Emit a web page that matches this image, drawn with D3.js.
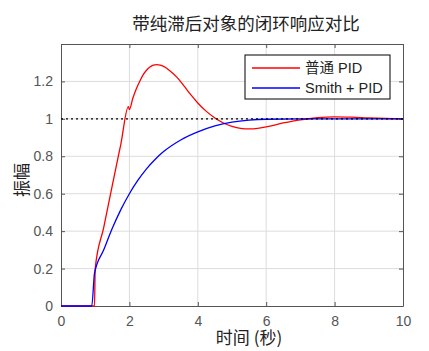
<!DOCTYPE html>
<html>
<head>
<meta charset="utf-8">
<script src="https://cdn.jsdelivr.net/npm/d3@7"></script>
<style>
  body { margin: 0; background: #fff; }
  .axis text { font-family: "Liberation Sans", Arial, sans-serif; font-size: 14px; fill: #555; }
  .axis path, .axis line { stroke: #555; }
  .cjk { font-family: "Noto Sans CJK SC", sans-serif; }
</style>
</head>
<body>
<script>
//==============================================================================
// DATA
//==============================================================================

const title = '带纯滞后对象的闭环响应对比';
const xLabel = '时间 (秒)';
const yLabel = '振幅';
const seriesNames = ['普通 PID', 'Smith + PID'];
const seriesColors = ['#ff0000', '#0000ff'];

const xTicks = [0, 2, 4, 6, 8, 10];
const yTicks = [0, 0.2, 0.4, 0.6, 0.8, 1, 1.2];
const setpoint = 1;

// 普通 PID
const pidT = [0, 0.98, 1.0, 1.25, 1.5, 1.75, 1.97, 2.0, 2.1, 2.2, 2.3, 2.4, 2.5, 2.6, 2.7, 2.8, 2.9, 3.0, 3.2, 3.4, 3.6, 3.8, 4.0, 4.25, 4.5, 4.75, 5.0, 5.25, 5.5, 5.75, 6.0, 6.5, 7.0, 7.5, 8.0, 8.5, 9.0, 9.5, 10];
const pidY = [0, 0, 0.2, 0.42, 0.645, 0.865, 1.065, 1.05, 1.11, 1.16, 1.2, 1.235, 1.26, 1.277, 1.287, 1.29, 1.287, 1.28, 1.255, 1.22, 1.175, 1.128, 1.085, 1.04, 1.005, 0.978, 0.96, 0.949, 0.946, 0.949, 0.957, 0.978, 0.995, 1.006, 1.011, 1.009, 1.005, 1.002, 1.0];

// Smith + PID
const smithT = [0, 0.9, 0.98, 1.25, 1.5, 1.75, 2.0, 2.25, 2.5, 2.75, 3.0, 3.5, 4.0, 4.5, 5.0, 5.5, 6.0, 7.0, 8.0, 10];
const smithY = [0, 0, 0.175, 0.30, 0.415, 0.515, 0.60, 0.672, 0.733, 0.783, 0.825, 0.887, 0.93, 0.962, 0.982, 0.993, 0.998, 1.0, 1.0, 1.0];

//==============================================================================
// PARAMETERS
//==============================================================================

const margin = { top: 44, right: 26, bottom: 45, left: 61 };
const width = 403 - 61;
const height = 306 - 44;

const svg = d3.select('body').append('svg')
  .attr('width', 429)
  .attr('height', 351);

const g = svg.append('g')
  .attr('transform', `translate(${margin.left},${margin.top})`);

const x = d3.scaleLinear().domain([0, 10]).range([0, width]);
const y = d3.scaleLinear().domain([0, 1.4]).range([height, 0]);

const line = d3.line()
  .x(d => x(d[0]))
  .y(d => y(d[1]))
  .curve(d3.curveMonotoneX);

//==============================================================================
// DRAW
//==============================================================================

// grid
g.append('g').selectAll('line')
  .data(xTicks.slice(1, -1))
  .enter().append('line')
  .attr('x1', d => x(d)).attr('x2', d => x(d))
  .attr('y1', 0).attr('y2', height)
  .attr('stroke', '#dcdcdc');

g.append('g').selectAll('line')
  .data(yTicks.slice(1))
  .enter().append('line')
  .attr('x1', 0).attr('x2', width)
  .attr('y1', d => y(d)).attr('y2', d => y(d))
  .attr('stroke', '#dcdcdc');

// axes (ticks inside)
g.append('g')
  .attr('class', 'axis')
  .attr('transform', `translate(0,${height})`)
  .call(d3.axisBottom(x).tickValues(xTicks).tickSizeInner(-4).tickSizeOuter(0).tickPadding(10).tickFormat(d3.format('d')));

g.append('g')
  .attr('class', 'axis')
  .call(d3.axisLeft(y).tickValues(yTicks).tickSizeInner(-4).tickSizeOuter(0).tickPadding(8).tickFormat(d => d3.format('~g')(d)));

g.append('g')
  .attr('class', 'axis')
  .call(d3.axisTop(x).tickValues(xTicks).tickSizeInner(-4).tickSizeOuter(0).tickFormat(''));

g.append('g')
  .attr('class', 'axis')
  .attr('transform', `translate(${width},0)`)
  .call(d3.axisRight(y).tickValues(yTicks).tickSizeInner(-4).tickSizeOuter(0).tickFormat(''));

g.selectAll('.axis .domain').attr('stroke', '#555');

// series
const series = [
  pidT.map((t, i) => [t, pidY[i]]),
  smithT.map((t, i) => [t, smithY[i]])
];

series.forEach((s, i) => {
  g.append('path')
    .datum(s)
    .attr('fill', 'none')
    .attr('stroke', seriesColors[i])
    .attr('stroke-width', 1.3)
    .attr('d', line);
});

// setpoint
g.append('line')
  .attr('x1', x(0)).attr('x2', x(10))
  .attr('y1', y(setpoint)).attr('y2', y(setpoint))
  .attr('stroke', '#000')
  .attr('stroke-width', 1.3)
  .attr('stroke-dasharray', '2,3');

// title & labels
svg.append('text')
  .attr('class', 'cjk')
  .attr('x', 246).attr('y', 30)
  .attr('text-anchor', 'middle')
  .style('font-size', '17.5px')
  .attr('fill', '#222')
  .text(title);

svg.append('text')
  .attr('class', 'cjk')
  .attr('x', 249).attr('y', 344)
  .attr('text-anchor', 'middle')
  .style('font-size', '17px')
  .attr('fill', '#222')
  .text(xLabel);

svg.append('text')
  .attr('class', 'cjk')
  .attr('transform', 'translate(28,180) rotate(-90)')
  .attr('text-anchor', 'middle')
  .style('font-size', '17px')
  .attr('fill', '#222')
  .text(yLabel);

// legend
const legend = svg.append('g')
  .attr('transform', 'translate(245,55)');

legend.append('rect')
  .attr('width', 145).attr('height', 44)
  .attr('fill', '#fff')
  .attr('stroke', '#000')
  .attr('stroke-width', 1);

seriesNames.forEach((name, i) => {
  const row = legend.append('g')
    .attr('transform', `translate(0,${13 + i * 20})`);
  row.append('line')
    .attr('x1', 7).attr('x2', 55)
    .attr('stroke', seriesColors[i])
    .attr('stroke-width', 1.3);
  row.append('text')
    .attr('x', 60).attr('y', 5)
    .style('font-family', '"Liberation Sans", "Noto Sans CJK SC", sans-serif')
    .style('font-size', '14.5px')
    .attr('fill', '#222')
    .text(name);
});
</script>
</body>
</html>
